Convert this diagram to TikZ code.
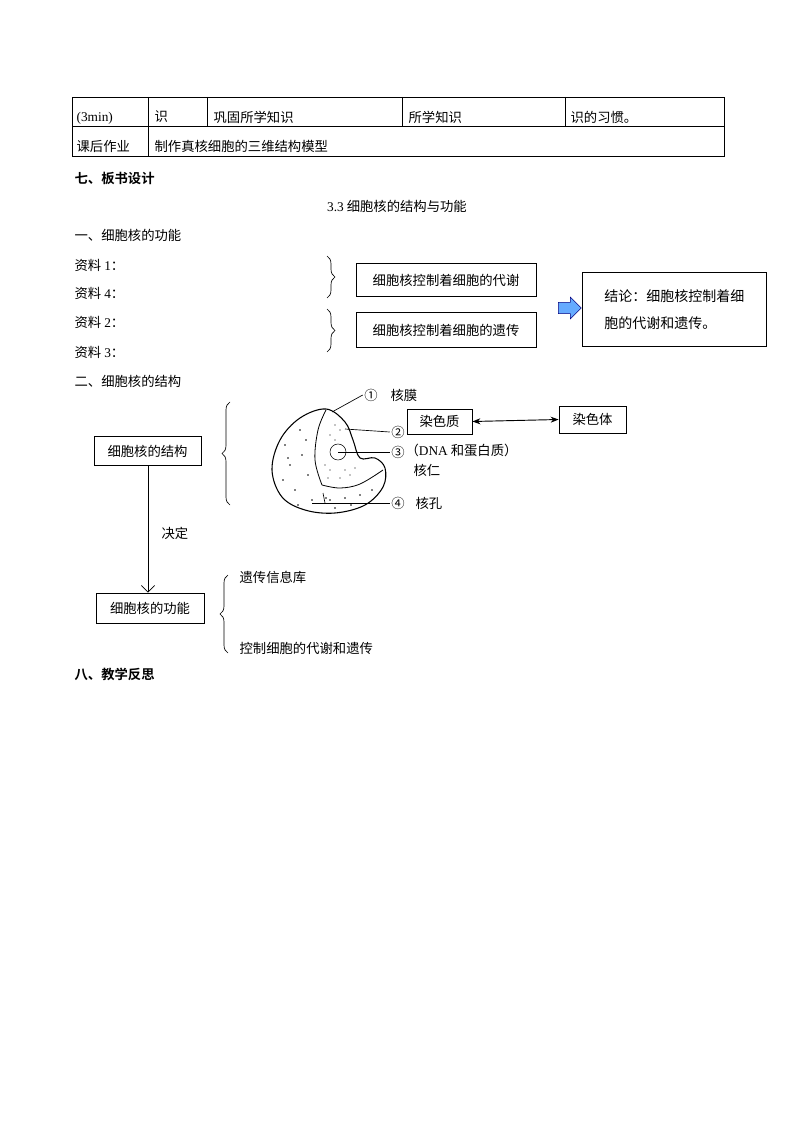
\documentclass[tikz,border=0pt]{standalone}
\usepackage{fontspec}
\setmainfont{Liberation Serif}
\newfontfamily\cjk{Noto Sans CJK SC}
\newfontfamily\cjkb{Noto Sans CJK SC Bold}
\usetikzlibrary{arrows.meta,decorations.pathreplacing,shapes.arrows}
\begin{document}
\begin{tikzpicture}[x=0.75pt,y=-0.75pt,
  every node/.style={font=\cjk\fontsize{10pt}{12pt}\selectfont,inner sep=1pt},
  txt/.style={anchor=west},
  box/.style={draw,thick,line width=0.6pt,inner sep=0pt},
  brace/.style={decorate,decoration={brace,amplitude=6pt},line width=0.5pt}]
\useasboundingbox (0,0) rectangle (794,1123);
% table
\draw[line width=0.6pt] (72,97) rectangle (724,156) (72,126) -- (724,126);
\foreach \x in {148,207,402,565} \draw[line width=0.6pt] (\x,97) -- (\x,126);
\draw[line width=0.6pt] (148,126) -- (148,156);
\node[txt] (t1) at (75,118) {\rmfamily(3min)};
\node[txt] (t2) at (153,117) {识};
\node[txt] (t3) at (212,117) {巩固所学知识};
\node[txt] (t4) at (407,117) {所学知识};
\node[txt] (t5) at (569,117) {识的习惯。};
\node[txt] (t6) at (75,146) {课后作业};
\node[txt] (t7) at (153,146) {制作真核细胞的三维结构模型};
\node[txt,font=\cjkb\fontsize{10pt}{12pt}\selectfont] (h7) at (73,178) {七、板书设计};
\node (title) at (397,206) {{\rmfamily 3.3} 细胞核的结构与功能};
\node[txt] (h1) at (73,235) {一、细胞核的功能};
\node[txt] (z1) at (73,265) {资料 {\rmfamily 1}：};
\node[txt] (z4) at (73,293) {资料 {\rmfamily 4}：};
\node[txt] (z2) at (73,322) {资料 {\rmfamily 2}：};
\node[txt] (z3) at (73,352) {资料 {\rmfamily 3}：};
\draw[brace] (327,256) -- (327,298);
\draw[brace] (327,309) -- (327,352);
\node[box,minimum width=180pt*0.75,minimum height=33pt*0.75] (b1) at (446,280) {细胞核控制着细胞的代谢};
\node[box,minimum width=180pt*0.75,minimum height=35pt*0.75] (b2) at (446,330) {细胞核控制着细胞的遗传};
\node[single arrow,draw=blue!50!black,fill=blue!55!cyan!60,minimum height=17pt,minimum width=16pt,single arrow head extend=2pt,inner sep=2pt] (ar) at (567,308) {};
\node[box,minimum width=184pt*0.75,minimum height=74pt*0.75,align=left,anchor=north west,font=\cjk\fontsize{10.5pt}{20pt}\selectfont,inner sep=6pt] (con) at (582,272) {结论：细胞核控制着细\\胞的代谢和遗传。};
% part 2
\node[txt] (h2) at (73,381) {二、细胞核的结构};
\node[box,minimum width=107pt*0.75,minimum height=29pt*0.75] (s) at (147.5,451) {细胞核的结构};
\draw[brace] (230,505) -- (230,402);
\node[box,minimum width=108pt*0.75,minimum height=30pt*0.75] (f) at (150,608) {细胞核的功能};
\draw[-{Straight Barb[length=5pt]},line width=0.5pt] (s.south -| 148,0) -- (f.north -| 148,0);
\node[txt] (jd) at (160,533) {决定};
\draw[brace] (228,653) -- (228,575);
\node[txt] (g1) at (238,577) {遗传信息库};
\node[txt] (g2) at (238,648) {控制细胞的代谢和遗传};
% cell
\draw[line width=0.8pt] plot[smooth cycle,tension=0.6] coordinates {(326,409) (300,418) (280,440) (272,470) (282,497) (305,510) (335,513) (365,505) (383,487) (385,468) (375,458) (360,458) (353,440) (345,422)};
\draw[line width=0.6pt] plot[smooth,tension=0.6] coordinates {(326,410) (318,430) (315,460) (322,485)};
\draw[line width=0.6pt] plot[smooth,tension=0.6] coordinates {(322,485) (340,488) (360,484) (383,470)};
\draw (338,452) circle (8);
\foreach \p in {(285,445),(290,465),(283,480),(295,490),(300,430),(302,455),(308,475),(312,500),(330,500),(345,498),(360,495),(372,490),(298,505),(335,508),(288,458),(306,440),(326,498),(351,505)}
  \fill \p circle (0.9);
\foreach \p in {(330,435),(335,440),(340,430),(325,465),(330,470),(345,470),(355,468),(350,475),(340,478),(328,478),(335,425)}
  \fill \p circle (0.6);
\node (n1) at (371,395) {①};
\node[txt] (l1) at (389,395) {核膜};
\draw[line width=0.5pt] (332,412) -- (n1.west);
\node[box,minimum width=65pt*0.75,minimum height=25pt*0.75] (rsz) at (439.5,421.5) {染色质};
\node[box,minimum width=67pt*0.75,minimum height=27pt*0.75] (rst) at (592.5,419.5) {染色体};
\draw[{Stealth[length=6pt]}-{Stealth[length=6pt]},line width=0.7pt] (rsz.east) -- (rst.west);
\node (n2) at (398,432) {②};
\draw[line width=0.5pt] (345,429) -- (n2.west);
\node (n3) at (398,452) {③};
\draw[line width=0.5pt] (338,452) -- (n3.west);
\node[txt] (dna) at (404,450) {（{\rmfamily DNA} 和蛋白质）};
\node[txt] (hr) at (412,470) {核仁};
\node (n4) at (398,503) {④};
\draw[line width=0.5pt] (312,503) -- (n4.west);
\draw[line width=0.5pt] (323,493) -- (325,503);
\node[txt] (kk) at (414,503) {核孔};
\node[txt,font=\cjkb\fontsize{10pt}{12pt}\selectfont] (h8) at (73,674) {八、教学反思};
\end{tikzpicture}
\end{document}
